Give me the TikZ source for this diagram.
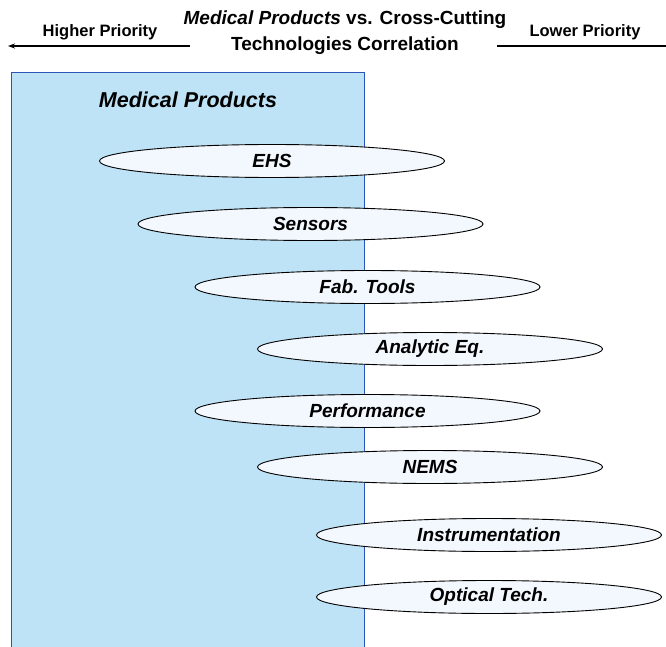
\documentclass[tikz,border=0pt]{standalone}
\usepackage{fontspec}
\setmainfont{Liberation Sans}
\usetikzlibrary{arrows.meta,shapes.geometric}
\definecolor{boxfill}{RGB}{190,227,247}
\definecolor{boxline}{RGB}{45,85,185}
\definecolor{lensfill}{RGB}{242,248,253}
\tikzset{
  lens/.style={ellipse, minimum width=345pt, minimum height=33pt, inner sep=0pt,
    draw=black, line width=0.9pt, fill=lensfill,
    font=\fontsize{19}{21}\selectfont\bfseries\itshape},
  hdr/.style={font=\fontsize{16.5}{19}\selectfont\bfseries},
}
\begin{document}
\begin{tikzpicture}[x=1pt,y=1pt]
\useasboundingbox (0,-647) rectangle (666,0);
\fill[white] (0,-647) rectangle (666,0);
% box
\draw[fill=boxfill, draw=boxline, line width=1pt] (11,-660) rectangle (364,-73);
\node[font=\fontsize{21.5}{24}\selectfont\bfseries\itshape] (mp) at (188,-100) {Medical Products};
% header
\node[align=center, font=\fontsize{19}{26}\selectfont\bfseries] (title) at (345,-33)
  {\textit{Medical Products} vs. Cross-Cutting\\Technologies Correlation};
\node[hdr] (hp) at (100,-32) {Higher Priority};
\node[hdr] (lp) at (585,-32) {Lower Priority};
\coordinate (la) at (190,-46);
\coordinate (lb) at (8,-46);
\coordinate (ra) at (497,-46);
\coordinate (rb) at (666,-46);
\draw[line width=1.3pt, -{Stealth[length=7pt,width=5pt]}] (la) -- (lb);
\draw[line width=1.3pt] (ra) -- (rb);
% lenses
\node[lens] (ehs) at (272,-161) {EHS};
\node[lens] (sen) at (310.5,-224) {Sensors};
\node[lens] (fab) at (367.5,-287) {Fab. Tools};
\node[lens] (ana) at (430,-349) {Analytic Eq.};
\node[lens] (per) at (367.5,-411) {Performance};
\node[lens] (nem) at (430,-467) {NEMS};
\node[lens] (ins) at (489,-535) {Instrumentation};
\node[lens] (opt) at (489,-597) {Optical Tech.};
\end{tikzpicture}
\end{document}
